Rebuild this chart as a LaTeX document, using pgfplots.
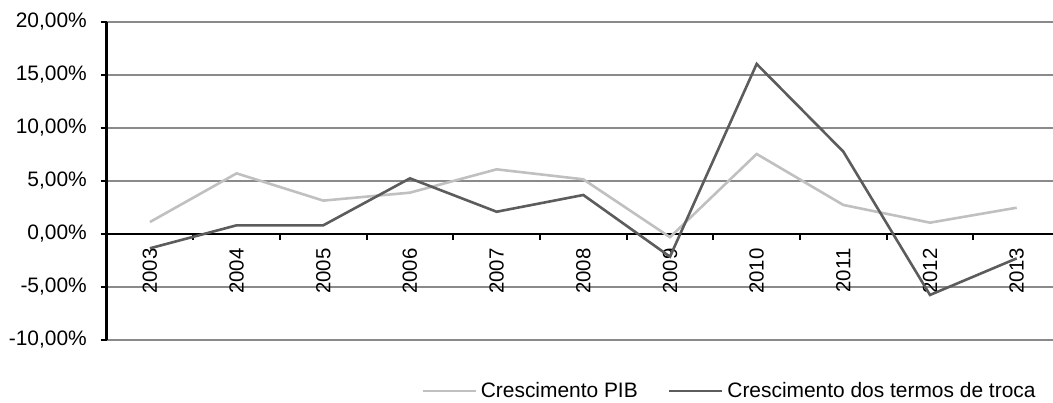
\documentclass[border=0pt]{standalone}
\usepackage{pgfplots}
\pgfplotsset{compat=1.18}
\usepackage{fontspec}
\setmainfont{Liberation Sans}
\definecolor{pibgray}{HTML}{C0C0C0}
\definecolor{trocagray}{HTML}{5C5C5C}
\definecolor{gridgray}{HTML}{8A8A8A}

\begin{document}
\begin{tikzpicture}
\useasboundingbox (0,0) rectangle (1053bp,403bp);
\begin{axis}[
  at={(106.6bp,63bp)}, anchor=south west,
  scale only axis, width=953.4bp, height=318bp,
  xmin=-0.5, xmax=10.5, ymin=-10, ymax=20,
  axis x line=middle, axis y line=left,
  x axis line style={-, line width=2.4bp, black},
  y axis line style={-, line width=2.4bp, black},
  xtick={0,...,10},
  xticklabels={2003,2004,2005,2006,2007,2008,2009,2010,2011,2012,2013},
  minor xtick={0.5,1.5,...,9.5},
  ytick={-10,-5,0,5,10,15,20},
  yticklabels={{-10,00\%},{-5,00\%},{0,00\%},{5,00\%},{10,00\%},{15,00\%},{20,00\%}},
  tick align=outside,
  major tick length=6bp, minor tick length=6bp,
  major x tick style={draw=none},
  minor x tick style={black, line width=2.2bp},
  major y tick style={black, line width=2.2bp},
  ymajorgrids,
  grid style={gridgray, line width=1.2bp},
  xticklabel shift=5bp,
  xticklabel style={rotate=90, anchor=east,
    font=\fontsize{20.5}{20.5}\selectfont},
  yticklabel style={font=\fontsize{21}{21}\selectfont, inner xsep=0bp, xshift=-13.6bp},
  legend columns=2,
  legend style={draw=none, fill=none, inner sep=0bp, at={(0.3298,-0.1604)}, anchor=west,
    font=\fontsize{21}{21}\selectfont, nodes={inner sep=0bp},
    /tikz/every odd column/.append style={column sep=4bp},
    /tikz/every even column/.append style={column sep=30bp}},
  legend cell align=left,
  legend image code/.code={\draw[#1] (0bp,0bp) -- (53bp,0bp);},
]
% Crescimento do PIB
\addplot[pibgray, line width=2.6bp] coordinates {
  (0,1.13) (1,5.72) (2,3.15) (3,3.90) (4,6.10) (5,5.16)
  (6,-0.30) (7,7.55) (8,2.74) (9,1.07) (10,2.48)};
\addlegendentry{Crescimento PIB}
% Crescimento dos termos de troca
\addplot[trocagray, line width=2.6bp] coordinates {
  (0,-1.35) (1,0.82) (2,0.82) (3,5.25) (4,2.10) (5,3.68)
  (6,-2.14) (7,16.04) (8,7.77) (9,-5.75) (10,-2.30)};
\addlegendentry{Crescimento dos termos de troca}
\end{axis}
\end{tikzpicture}
\end{document}
